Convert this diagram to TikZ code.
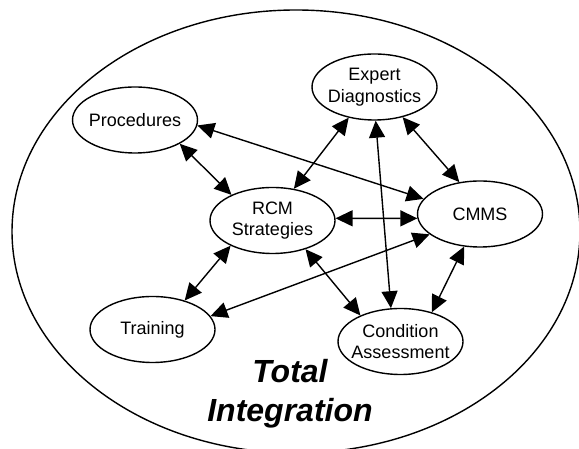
\documentclass[tikz,border=0pt]{standalone}
\usepackage{fontspec}
\setmainfont{Liberation Sans}
\usetikzlibrary{shapes.geometric,arrows.meta}

\begin{document}
\begin{tikzpicture}[x=1pt, y=1pt,
    blob/.style={ellipse, draw, line width=1.4pt, minimum width=125pt,
      minimum height=66pt, inner xsep=-14pt, inner ysep=0pt, align=center,
      font=\fontsize{18}{21.5}\selectfont},
    link/.style={{Triangle[length=17pt,width=16pt]}-{Triangle[length=17pt,width=16pt]},
      line width=1.4pt}]
  \useasboundingbox (0,0) rectangle (579,449);
  % Outer ring
  \draw[line width=1.4pt] (296,217.5) ellipse [x radius=284pt, y radius=221.5pt];
  % The six areas
  \node[blob] (expert) at (374.5,362) {Expert\\Diagnostics};
  \node[blob] (proc) at (135,329) {Procedures};
  \node[blob] (rcm) at (272.5,228.5) {RCM\\Strategies};
  \node[blob] (cmms) at (480,235) {CMMS};
  \node[blob] (train) at (152.5,119.5) {Training};
  \node[blob] (cond) at (400.5,107.5) {Condition\\Assessment};
  % Two-way links
  \draw[link] (proc.-5) -- (cmms.165);
  \draw[link] (proc.-28) -- (rcm.148);
  \draw[link] (rcm.56) -- (expert.230);
  \draw[link] (expert.-47) -- (cmms.123);
  \draw[link] (expert.-88) -- (cond.106);
  \draw[link] (rcm.2) -- (cmms.184);
  \draw[link] (rcm.211) -- (train.42);
  \draw[link] (cmms.202) -- (train.13);
  \draw[link] (rcm.-41) -- (cond.147);
  \draw[link] (cmms.244) -- (cond.43);
  % Caption inside the ring
  \node[align=center, font=\fontsize{32}{39}\selectfont\bfseries\itshape] (total)
    at (290,55.5) {Total\\Integration};
\end{tikzpicture}
\end{document}
